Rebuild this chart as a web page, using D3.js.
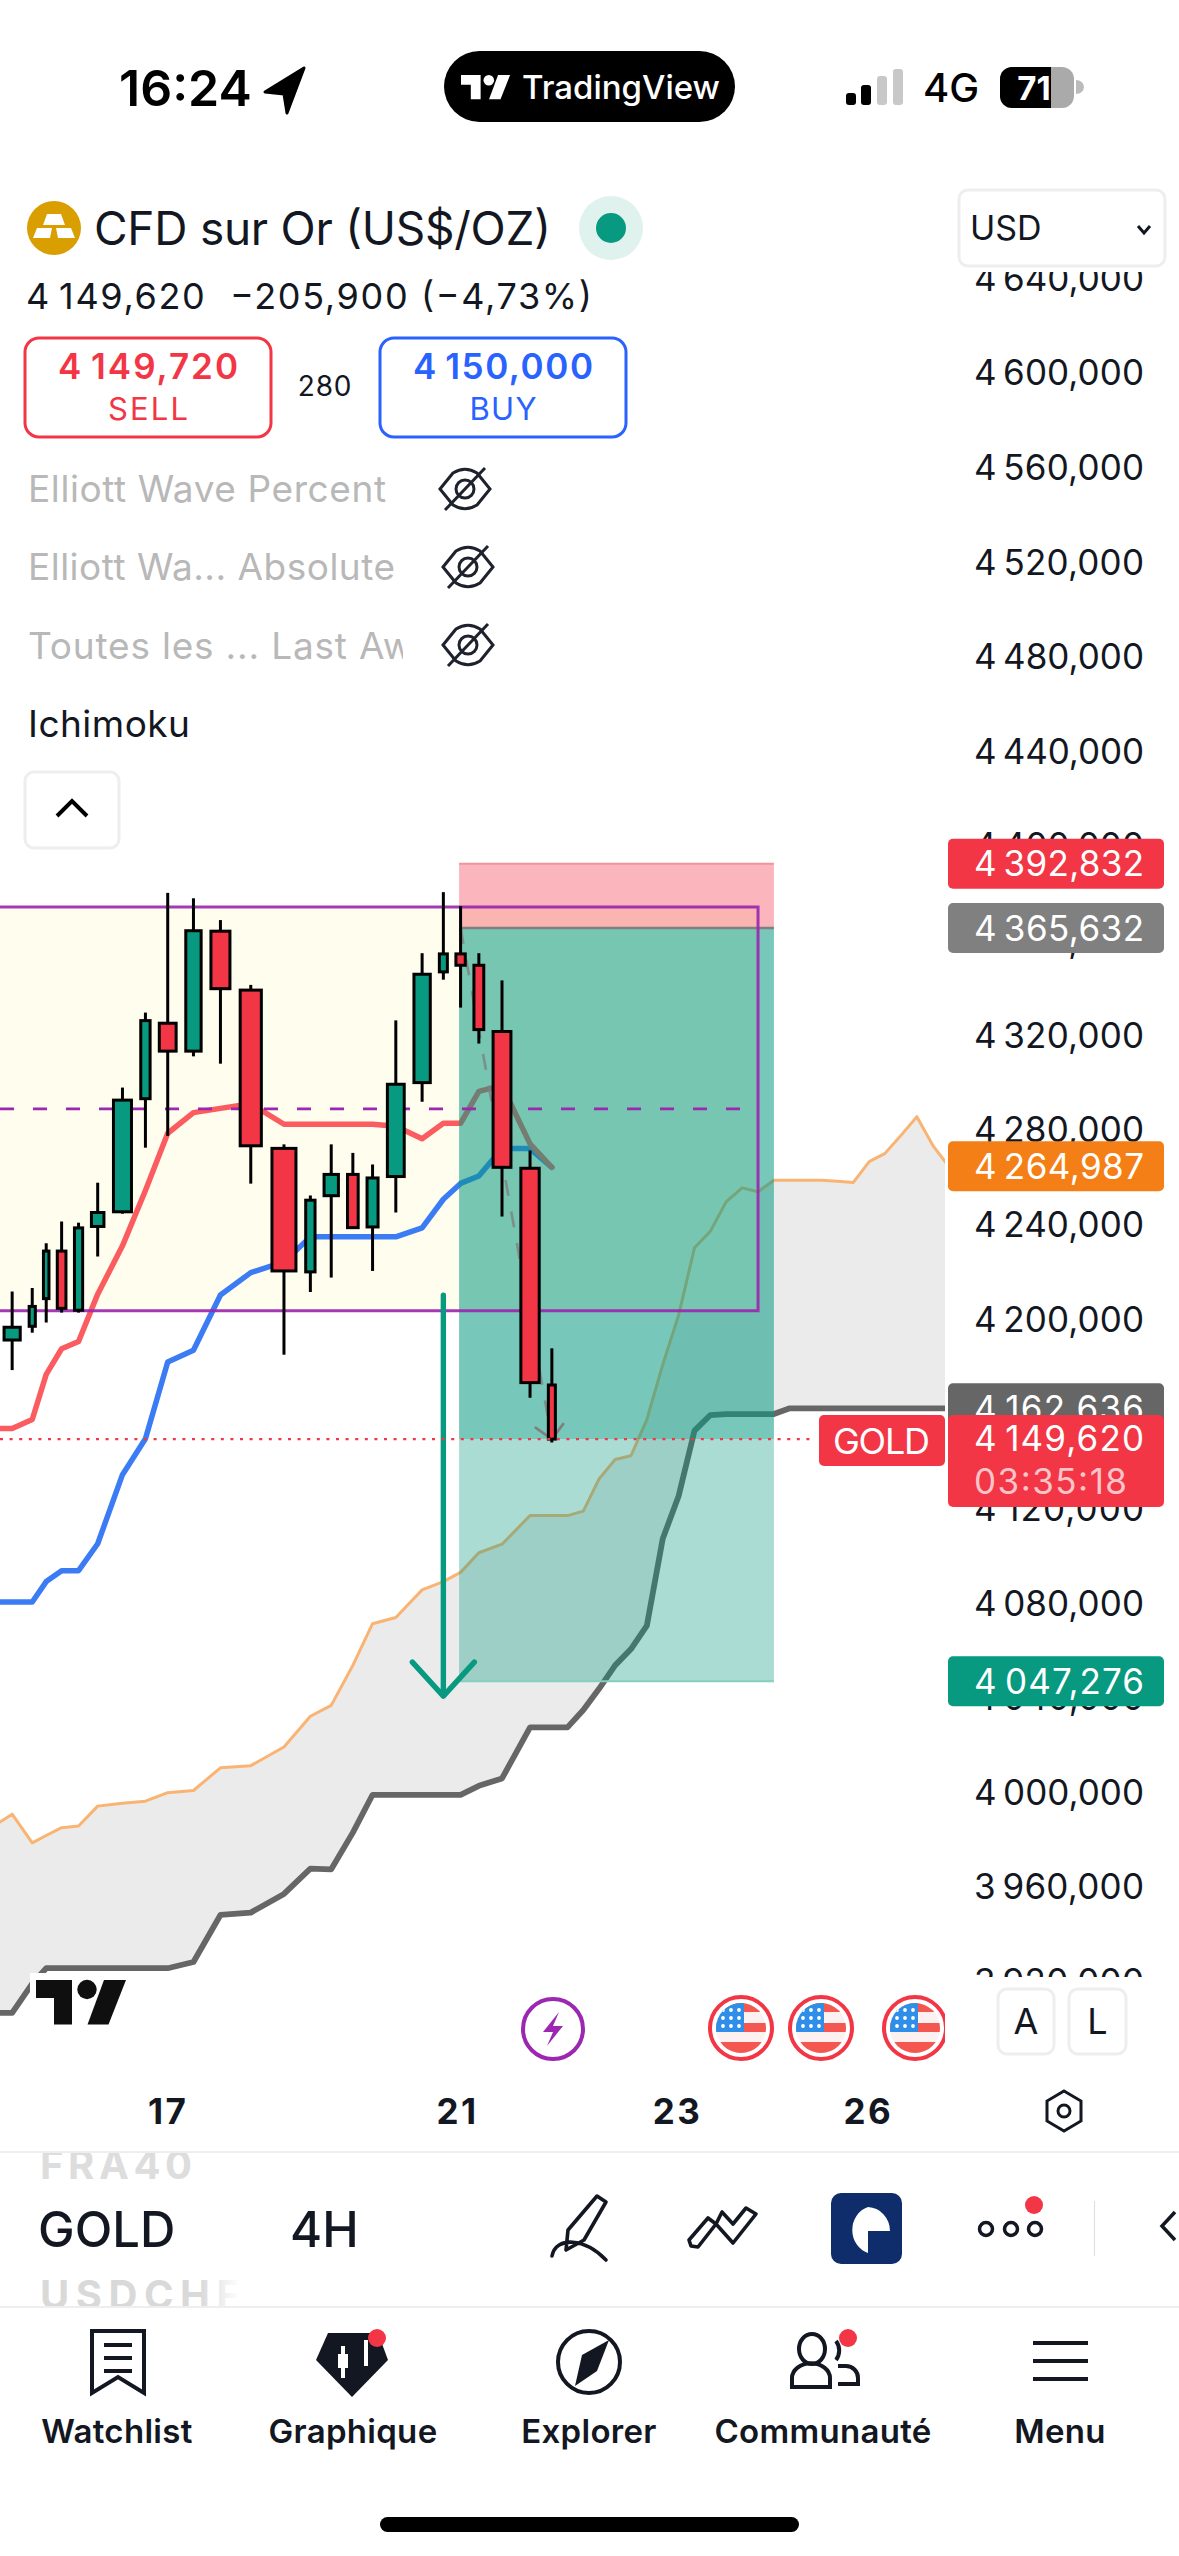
<!DOCTYPE html>
<html>
<head>
<meta charset="utf-8">
<title>GOLD 4H</title>
<script src="https://cdn.jsdelivr.net/npm/d3@7"></script>
<style>
  html, body { margin: 0; padding: 0; background: #fff; }
  svg { display: block; font-family: Inter, "Noto Sans", sans-serif; }
</style>
</head>
<body>
<svg id="chart" width="1179" height="2556"></svg>
<script>
// equivolume chart: every bar takes the room of its volume (arbitrary units)
// first one is just off the left edge, after the candles come the future bars of the cloud
var volumes = [50,
  67.5, 37.5, 35.5, 45, 43.5, 56.5, 73, 47, 69.5, 65, 76, 82.5, 91,
  47, 62, 51, 52, 69.5, 68, 43, 47, 48.5, 72.5, 74, 40,
  41.5, 41.5, 41.5, 41.5, 41.5, 41.5, 41.5, 41.5, 41.5, 41.5, 41.5, 41.5, 41.5, 41.5, 41.5, 41.5, 41.5, 41.5, 41.5, 41.5, 41.5, 41.5, 41.5, 41.5, 41.5];

var opens  = [4191.5, 4197.3, 4209.0, 4229.1, 4204.1, 4239.5, 4245.7, 4293.5, 4325.4, 4313.6, 4364.3, 4339.4, 4272.5,
              4220.3, 4252.5, 4261.5, 4239.3, 4260.6, 4300.3, 4347.1, 4354.7, 4349.9, 4321.9, 4264.1, 4172.5];
var highs  = [4212.0, 4213.5, 4232.4, 4241.6, 4241.1, 4258.0, 4298.2, 4329.9, 4380.5, 4378.2, 4369.0, 4341.6, 4274.2,
              4252.6, 4274.2, 4270.6, 4265.7, 4326.6, 4355.0, 4380.8, 4374.9, 4355.0, 4343.5, 4271.6, 4188.0];
var lows   = [4178.8, 4194.6, 4198.9, 4203.1, 4203.1, 4226.8, 4244.9, 4272.8, 4277.8, 4311.4, 4308.3, 4257.6, 4185.3,
              4211.8, 4217.9, 4239.0, 4220.7, 4245.4, 4292.2, 4343.8, 4332.0, 4316.8, 4243.7, 4167.1, 4148.2];
var closes = [4196.9, 4205.7, 4229.1, 4204.9, 4238.9, 4245.4, 4292.9, 4326.5, 4313.6, 4364.5, 4340.0, 4273.6, 4220.7,
              4250.6, 4261.5, 4239.0, 4260.0, 4299.6, 4346.1, 4354.7, 4349.9, 4322.7, 4264.5, 4173.5, 4149.62];

var tenkan = [4154.1, 4154.1, 4157.9, 4177.0, 4187.8, 4190.9, 4210.9, 4231.3, 4254.7, 4278.9, 4287.6, 4289.4, 4291.4,
              4282.7, 4282.7, 4282.7, 4282.7, 4282.7, 4281.9, 4276.6, 4283.1, 4283.1, 4296.6, 4299.0, 4274.4, 4264.5];
var kijun  = [4080.8, 4080.8, 4080.8, 4089.4, 4094.0, 4094.0, 4105.4, 4134.6, 4149.8, 4182.2, 4187.2, 4210.5, 4220.0,
              4224.5, 4235.1, 4235.1, 4235.1, 4235.1, 4235.1, 4238.9, 4251.0, 4257.7, 4260.8, 4272.4, 4272.4, 4264.5];
var spanA  = [3985.0, 3991.1, 3979.0, 3982.1, 3985.4, 3986.1, 3994.5, 3995.7, 3996.6, 4000.2, 4001.1, 4010.7, 4011.6,
              4019.5, 4032.5, 4037.1, 4054.0, 4071.6, 4074.2, 4085.9, 4089.4, 4093.3, 4101.6, 4105.2, 4117.3, 4117.3,
              4117.3, 4119.2, 4132.9, 4141.0, 4142.6, 4157.9, 4181.1, 4202.0, 4230.5, 4237.5, 4250.0, 4255.8, 4254.2,
              4259.0, 4259.0, 4259.0, 4259.0, 4258.6, 4258.1, 4266.9, 4270.4, 4278.0, 4285.9, 4273.8, 4264.987];
var spanB  = [3907.1, 3907.1, 3919.5, 3926.0, 3926.0, 3926.0, 3926.0, 3926.0, 3926.0, 3926.0, 3928.6, 3948.5, 3949.5,
              3957.4, 3968.1, 3967.8, 3983.3, 3999.3, 3999.3, 3999.3, 3999.3, 3999.3, 4003.1, 4006.2, 4027.8, 4027.8,
              4027.8, 4035.1, 4044.2, 4054.0, 4060.9, 4070.8, 4107.5, 4125.6, 4153.2, 4159.8, 4160.2, 4160.2, 4160.2,
              4160.2, 4162.636, 4162.636, 4162.636, 4162.636, 4162.636, 4162.636, 4162.636, 4162.636, 4162.636, 4162.636, 4162.636];

var priceTicks = d3.range(3920, 4680, 40);
// day ticks sit on the cumulated volume axis
var dayTicks = [490, 1246, 1821, 2320];
var dayLabels = ["17", "21", "23", "26"];

// rectangle and short position drawn on the chart
var boxHigh = 4374.5, boxLow = 4203.9, boxMid = 4289.2, boxEndBar = 38;
var stopPrice = 4392.832, entryPrice = 4365.632, targetPrice = 4047.276, lastPrice = 4149.62;
var positionStartBar = 21, positionEndBar = 39;
var arrowBar = 20, arrowTop = 4210.5, arrowTip = 4041;

var axisLabels = [
  {value: 4392.832, color: "#f23645"},
  {value: 4365.632, color: "#808080"},
  {value: 4264.987, color: "#f57f17"},
  {value: 4162.636, color: "#666666"},
  {value: 4047.276, color: "#089981"}
];

var frFormat = d3.formatLocale({decimal: ",", thousands: "\u202f", grouping: [3], currency: ["", ""]}).format(",.3f");

var svg = d3.select("#chart");
var red = "#f23645", green = "#089981", blue = "#2962ff", ink = "#131722";

// scales
var paneRight = 945;
var pxPerUnit = 0.3827;
var edges = [0];
volumes.forEach(function(v, i) { edges.push(edges[i] + v); });
var total = edges[edges.length - 1];
var x = d3.scaleLinear().domain([0, total]).range([-19.9, -19.9 + total * pxPerUnit]);
var y = d3.scaleLinear().domain([4320, 4000]).range([1036, 1036 + 320 * 2.366]);

function barX(i) { return x(edges[i] + volumes[i] / 2); }

var defs = svg.append("defs");
defs.append("clipPath").attr("id", "pane").append("rect")
    .attr("x", 0).attr("y", 272).attr("width", paneRight).attr("height", 1788);
defs.append("clipPath").attr("id", "axisclip").append("rect")
    .attr("x", 948).attr("y", 272).attr("width", 231).attr("height", 1705);
defs.append("clipPath").attr("id", "eventclip").append("rect")
    .attr("x", 0).attr("y", 1980).attr("width", paneRight).attr("height", 100);

var pane = svg.append("g").attr("clip-path", "url(#pane)");

// cloud
var cloud = d3.area()
    .x(function(d, i) { return barX(i); })
    .y0(function(d, i) { return y(spanB[i]); })
    .y1(function(d) { return y(d); });
pane.append("path").attr("d", cloud(spanA)).attr("fill", "#ebebeb");

var line = d3.line()
    .x(function(d, i) { return barX(i); })
    .y(function(d) { return y(d); });

// rectangle fill goes under the indicator lines
var boxRight = barX(boxEndBar);
pane.append("rect")
    .attr("x", -5).attr("y", y(boxHigh))
    .attr("width", boxRight + 5).attr("height", y(boxLow) - y(boxHigh))
    .attr("fill", "#fffdee");

pane.append("path").attr("d", line(spanA))
    .attr("fill", "none").attr("stroke", "#f9b473").attr("stroke-width", 3).attr("stroke-linejoin", "round");
pane.append("path").attr("d", line(spanB))
    .attr("fill", "none").attr("stroke", "#666666").attr("stroke-width", 5.8).attr("stroke-linejoin", "round");
pane.append("path").attr("d", line(kijun))
    .attr("fill", "none").attr("stroke", "#3b7cf5").attr("stroke-width", 5.5).attr("stroke-linejoin", "round").attr("stroke-linecap", "round");
pane.append("path").attr("d", line(tenkan))
    .attr("fill", "none").attr("stroke", "#fa5c60").attr("stroke-width", 5.5).attr("stroke-linejoin", "round").attr("stroke-linecap", "round");

// short position zones
var posLeft = barX(positionStartBar) - 1.5, posRight = barX(positionEndBar);
function zone(top, bottom, color, alpha) {
  pane.append("rect")
      .attr("x", posLeft).attr("y", y(top))
      .attr("width", posRight - posLeft).attr("height", y(bottom) - y(top))
      .attr("fill", color).attr("fill-opacity", alpha);
}
zone(stopPrice, entryPrice, red, 0.36);
zone(entryPrice, lastPrice, green, 0.55);
zone(lastPrice, targetPrice, green, 0.34);

function hline(price, color, width, x0, x1, dash) {
  pane.append("line")
      .attr("x1", x0).attr("x2", x1)
      .attr("y1", y(price)).attr("y2", y(price))
      .attr("stroke", color).attr("stroke-width", width)
      .attr("stroke-dasharray", dash || null);
}
hline(stopPrice, "#f7919a", 2, posLeft, posRight);
hline(entryPrice, "#808080", 2.4, posLeft, posRight);
hline(targetPrice, "#83d0c1", 2, posLeft, posRight);

// rectangle outline and mid line, above the zones
pane.append("path")
    .attr("d", "M-5," + y(boxHigh) + "H" + boxRight + "V" + y(boxLow) + "H-5")
    .attr("fill", "none").attr("stroke", "#9c27b0").attr("stroke-opacity", 0.92).attr("stroke-width", 3);
hline(boxMid, "#9c27b0", 2.8, 0, boxRight, "14 19");

// grey projection of the trade
var projection = [[barX(positionStartBar), y(entryPrice)], [barX(25), y(lastPrice)]];
pane.append("path").attr("d", d3.line()(projection))
    .attr("fill", "none").attr("stroke", "#808080").attr("stroke-width", 2.6).attr("stroke-dasharray", "16 16").attr("stroke-opacity", 0.8);
pane.append("path")
    .attr("d", "M" + (barX(25) - 17) + "," + (y(lastPrice) - 12) + "L" + barX(25) + "," + y(lastPrice) + "L" + (barX(25) + 12) + "," + (y(lastPrice) - 16))
    .attr("fill", "none").attr("stroke", "#808080").attr("stroke-width", 2.6);

// candles
var candles = pane.append("g").selectAll("g")
    .data(opens)
  .enter().append("g");
candles.append("line")
    .attr("x1", function(d, i) { return barX(i + 1); })
    .attr("x2", function(d, i) { return barX(i + 1); })
    .attr("y1", function(d, i) { return y(highs[i]); })
    .attr("y2", function(d, i) { return y(lows[i]); })
    .attr("stroke", "#000").attr("stroke-width", 3);
function bodyWidth(i) { return 0.87 * volumes[i + 1] * pxPerUnit - 3.3; }
candles.append("rect")
    .attr("x", function(d, i) { return barX(i + 1) - bodyWidth(i) / 2 + 1.5; })
    .attr("width", function(d, i) { return bodyWidth(i) - 3; })
    .attr("y", function(d, i) { return y(Math.max(d, closes[i])); })
    .attr("height", function(d, i) { return Math.abs(y(d) - y(closes[i])); })
    .attr("fill", function(d, i) { return closes[i] >= d ? green : red; })
    .attr("stroke", "#000").attr("stroke-width", 3);

// target arrow
var ax = barX(arrowBar);
pane.append("path")
    .attr("d", "M" + ax + "," + y(arrowTop) + "V" + y(arrowTip) + "M" + (ax - 31) + "," + (y(arrowTip) - 34) + "L" + ax + "," + y(arrowTip) + "L" + (ax + 31) + "," + (y(arrowTip) - 34))
    .attr("fill", "none").attr("stroke", green).attr("stroke-width", 5.4).attr("stroke-linecap", "round").attr("stroke-linejoin", "round");

// last price line
svg.append("line")
    .attr("x1", 0).attr("x2", 815).attr("y1", y(lastPrice)).attr("y2", y(lastPrice))
    .attr("stroke", red).attr("stroke-width", 2.4).attr("stroke-dasharray", "3 6.6");

// price axis
var yAxis = svg.append("g")
    .attr("clip-path", "url(#axisclip)")
  .append("g")
    .attr("transform", "translate(974,0)")
    .call(d3.axisRight(y).tickValues(priceTicks).tickSize(0).tickPadding(0).tickFormat(frFormat));
yAxis.select(".domain").remove();
yAxis.selectAll("text").attr("font-size", 35).attr("font-family", "Inter").attr("fill", ink)
    .attr("textLength", 170).attr("lengthAdjust", "spacing");

// labels on the axis
function priceBox(top, h, color) {
  svg.append("rect").attr("x", 948).attr("y", top).attr("width", 216).attr("height", h).attr("rx", 5).attr("fill", color);
}
function priceText(cy, txt, len, color) {
  svg.append("text").attr("x", 974).attr("y", cy).attr("dy", "0.36em")
      .attr("font-size", 35).attr("fill", color || "#fff")
      .attr("textLength", len).attr("lengthAdjust", "spacing").text(txt);
}
axisLabels.forEach(function(d) {
  priceBox(y(d.value) - 25, 50, d.color);
  priceText(y(d.value), frFormat(d.value), 170);
});
priceBox(1415, 92, red);
priceText(1438, frFormat(lastPrice), 170);
priceText(1481, "03:35:18", 153, "#fbc4c9");
svg.append("rect").attr("x", 819).attr("y", 1415).attr("width", 126).attr("height", 51).attr("rx", 5).attr("fill", red);
svg.append("text").attr("x", 833).attr("y", 1441).attr("dy", "0.36em")
    .attr("font-size", 36).attr("fill", "#fff").attr("textLength", 97).attr("lengthAdjust", "spacing").text("GOLD");

// TradingView mark, origin at top left of the T, 90 x 44.5 at scale 1
function tvLogo(parent, ox, oy, k, color) {
  var g = parent.append("g").attr("transform", "translate(" + ox + "," + oy + ") scale(" + k + ")").attr("fill", color);
  g.append("path").attr("d", "M0,0H36V44.5H18V18H0Z");
  g.append("circle").attr("cx", 51).attr("cy", 9.5).attr("r", 9.7);
  g.append("path").attr("d", "M68,0H90L72.5,44.5H51.5Z");
}
svg.append("rect").attr("x", 30).attr("y", 1973).attr("width", 105).attr("height", 60).attr("fill", "#fff");
tvLogo(svg, 36, 1980, 1, "#0f0f0f");

// event badges
svg.append("circle").attr("cx", 553).attr("cy", 2029).attr("r", 30).attr("fill", "#fff").attr("stroke", "#9c27b0").attr("stroke-width", 4);
svg.append("path").attr("d", "M559,2012L543,2032H553L547,2046L563,2026H553Z").attr("fill", "#9c27b0");
var events = svg.append("g").attr("clip-path", "url(#eventclip)");
[741, 821, 915].forEach(function(cx, n) {
  defs.append("clipPath").attr("id", "flag" + n).append("circle").attr("cx", cx).attr("cy", 2028).attr("r", 25);
  events.append("circle").attr("cx", cx).attr("cy", 2028).attr("r", 31).attr("fill", "#fff").attr("stroke", "#f23645").attr("stroke-width", 4);
  var flag = events.append("g").attr("clip-path", "url(#flag" + n + ")");
  flag.append("rect").attr("x", cx - 25).attr("y", 2003).attr("width", 50).attr("height", 50).attr("fill", "#fdf0f0");
  flag.append("rect").attr("x", cx - 25).attr("y", 2003).attr("width", 50).attr("height", 9).attr("fill", "#f4574f");
  flag.append("rect").attr("x", cx - 25).attr("y", 2023).attr("width", 50).attr("height", 9).attr("fill", "#f4574f");
  flag.append("rect").attr("x", cx - 25).attr("y", 2042).attr("width", 50).attr("height", 12).attr("fill", "#f4574f");
  flag.append("rect").attr("x", cx - 25).attr("y", 2003).attr("width", 28).attr("height", 29).attr("fill", "#2f8fe8");
  [2010, 2018, 2026].forEach(function(sy) {
    [-18, -10, -2].forEach(function(sx) {
      flag.append("circle").attr("cx", cx + sx).attr("cy", sy).attr("r", 1.9).attr("fill", "#fff");
    });
  });
});

function smallBtn(bx, by, w, h, txt) {
  svg.append("rect").attr("x", bx).attr("y", by).attr("width", w).attr("height", h).attr("rx", 9)
      .attr("fill", "#fff").attr("stroke", "#eeeeee").attr("stroke-width", 3);
  if (txt) {
    svg.append("text").attr("x", bx + w / 2).attr("y", by + h / 2).attr("dy", "0.36em").attr("text-anchor", "middle")
        .attr("font-size", 36).attr("fill", ink).text(txt);
  }
}
smallBtn(998, 1989, 56, 65, "A");
smallBtn(1069, 1989, 57, 65, "L");

// time axis
var xAxis = svg.append("g")
    .attr("transform", "translate(0,2111)")
    .call(d3.axisBottom(x).tickValues(dayTicks).tickSize(0).tickPadding(0)
      .tickFormat(function(d, i) { return dayLabels[i]; }));
xAxis.select(".domain").remove();
xAxis.selectAll("text").attr("font-size", 35).attr("font-weight", 700).attr("font-family", "Inter").attr("fill", ink)
    .attr("dy", "0.36em").style("letter-spacing", "2.5px");

svg.append("path").attr("d", "M1064,2091L1081,2101V2121L1064,2131L1047,2121V2101Z")
    .attr("fill", "none").attr("stroke", ink).attr("stroke-width", 3);
svg.append("circle").attr("cx", 1064).attr("cy", 2111).attr("r", 6).attr("fill", "none").attr("stroke", ink).attr("stroke-width", 3);

function label(tx, ty, txt, size, color, opts) {
  opts = opts || {};
  var t = svg.append("text").attr("x", tx).attr("y", ty).attr("dy", "0.36em")
      .attr("font-size", size).attr("fill", color)
      .attr("font-weight", opts.weight || 400)
      .attr("text-anchor", opts.anchor || "start")
      .style("letter-spacing", (opts.spacing || 0) + "px")
      .style("white-space", "pre")
      .text(txt);
  if (opts.len) t.attr("textLength", opts.len).attr("lengthAdjust", "spacing");
  return t;
}

// status bar
label(119, 88, "16:24", 50, "#000", {weight: 600});
svg.append("path").attr("d", "M304,68L265,92L284,94L287,113Z").attr("fill", "#000").attr("stroke", "#000").attr("stroke-width", 3).attr("stroke-linejoin", "round");
svg.append("rect").attr("x", 444).attr("y", 51).attr("width", 291).attr("height", 71).attr("rx", 35.5).attr("fill", "#000");
tvLogo(svg, 461, 75, 0.545, "#fff");
label(522, 87, "TradingView", 33, "#fff", {weight: 500});
[[846, 93, "#000"], [861, 85, "#000"], [877, 76, "#c8c8c8"], [893, 69, "#c8c8c8"]].forEach(function(b) {
  svg.append("rect").attr("x", b[0]).attr("y", b[1]).attr("width", 10).attr("height", 105 - b[1]).attr("rx", 3).attr("fill", b[2]);
});
label(923, 88, "4G", 40, "#000", {weight: 500});
svg.append("rect").attr("x", 1000).attr("y", 67).attr("width", 74).attr("height", 41).attr("rx", 12).attr("fill", "#aaaaaa");
svg.append("path").attr("d", "M1012,67H1051V108H1012A12,12 0 0 1 1000,96V79A12,12 0 0 1 1012,67Z").attr("fill", "#000");
svg.append("path").attr("d", "M1076,80A8,7 0 0 1 1076,94Z").attr("fill", "#bbbbbb");
label(1034, 88, "71", 33, "#fff", {weight: 700, anchor: "middle"});

// title
svg.append("circle").attr("cx", 54).attr("cy", 228).attr("r", 27).attr("fill", "#d99e00");
svg.append("path").attr("d", "M47,214H61L65,225H43ZM37,228H52L50,238H33ZM56,228H71L75,238H58Z").attr("fill", "#fff");
label(94, 228, "CFD sur Or (US$/OZ)", 46, ink, {len: 457});
svg.append("circle").attr("cx", 611).attr("cy", 228).attr("r", 32).attr("fill", "#dff2ee");
svg.append("circle").attr("cx", 611).attr("cy", 228).attr("r", 15).attr("fill", green);

smallBtn(959, 190, 206, 76);
label(970, 228, "USD", 34, ink);
svg.append("path").attr("d", "M1138,226L1144,233L1150,226").attr("fill", "none").attr("stroke", ink).attr("stroke-width", 3);

label(26, 296, "4\u202f149,620  \u2212205,900 (\u22124,73%)", 36, ink, {len: 566});

// sell and buy
function tradeBox(bx, color, price, name, nameLen) {
  svg.append("rect").attr("x", bx).attr("y", 338).attr("width", 246).attr("height", 99).attr("rx", 14)
      .attr("fill", "#fff").attr("stroke", color).attr("stroke-width", 3);
  label(bx + 33, 366, price, 35, color, {weight: 600, len: 180});
  label(bx + 123 - nameLen / 2, 409, name, 31, color, {len: nameLen});
}
tradeBox(25, red, "4\u202f149,720", "SELL", 80);
tradeBox(380, blue, "4\u202f150,000", "BUY", 67);
label(325, 386, "280", 28, ink, {anchor: "middle", spacing: 0.8});

// legend rows
function eyeOff(cx, cy) {
  var g = svg.append("g").attr("transform", "translate(" + cx + "," + cy + ")")
      .attr("fill", "none").attr("stroke", "#1e222d").attr("stroke-width", 3);
  g.append("path").attr("d", "M-25,0L-12,-16C-4,-21 4,-21 12,-16L25,0L12,16C4,21 -4,21 -12,16Z");
  g.append("circle").attr("r", 9);
  g.append("path").attr("d", "M-20,21L20,-21");
}
defs.append("clipPath").attr("id", "legendclip").append("rect").attr("x", 0).attr("y", 620).attr("width", 403).attr("height", 60);
label(28, 489, "Elliott Wave Percent", 37, "#b8b8b8", {len: 358});
label(28, 567, "Elliott Wa... Absolute", 37, "#b8b8b8", {len: 367});
label(28, 646, "Toutes les ... Last Aw", 37, "#b8b8b8", {len: 385}).attr("clip-path", "url(#legendclip)");
eyeOff(465, 489); eyeOff(468, 567); eyeOff(468, 645);
label(28, 724, "Ichimoku", 37, ink, {len: 162});
smallBtn(25, 772, 94, 76);
svg.append("path").attr("d", "M57,816L72,801L87,816").attr("fill", "none").attr("stroke", "#000").attr("stroke-width", 4);

// symbol strip
svg.append("rect").attr("x", 0).attr("y", 2151).attr("width", 1179).attr("height", 2).attr("fill", "#eeeeee");
svg.append("rect").attr("x", 0).attr("y", 2306).attr("width", 1179).attr("height", 2).attr("fill", "#eeeeee");
defs.append("clipPath").attr("id", "strip").append("rect").attr("x", 0).attr("y", 2153).attr("width", 238).attr("height", 153);
var grad = defs.append("linearGradient").attr("id", "fadeR");
grad.append("stop").attr("offset", "0.8").attr("stop-color", "#d9d9d9");
grad.append("stop").attr("offset", "1").attr("stop-color", "#ffffff");
label(40, 2165, "FRA40", 40, "#dddddd", {weight: 700, len: 152}).attr("clip-path", "url(#strip)");
label(40, 2295, "USDCHF", 40, "url(#fadeR)", {weight: 700, len: 200}).attr("clip-path", "url(#strip)");
label(38, 2229, "GOLD", 49, ink, {weight: 500});
label(290, 2229, "4H", 49, ink, {weight: 500});

svg.append("path").attr("d", "M597,2196L606,2202L584,2240L566,2250L568,2230Z M552,2256C556,2236 585,2238 606,2260")
    .attr("fill", "none").attr("stroke", ink).attr("stroke-width", 3.6).attr("stroke-linejoin", "round").attr("stroke-linecap", "round");
svg.append("path").attr("d", "M691,2246L689,2240L708,2218L716,2224L698,2247ZM716,2224L733,2243L756,2214L746,2208L733,2224L722,2212Z")
    .attr("fill", "none").attr("stroke", ink).attr("stroke-width", 3.6).attr("stroke-linejoin", "round");
svg.append("rect").attr("x", 831).attr("y", 2193).attr("width", 71).attr("height", 71).attr("rx", 10).attr("fill", "#0f2d6b");
svg.append("path").attr("d", "M868,2207A22,24 0 0 0 868,2253V2231H890A23,24 0 0 0 868,2207Z").attr("fill", "#fff");
[986, 1011, 1035].forEach(function(cx) {
  svg.append("circle").attr("cx", cx).attr("cy", 2229).attr("r", 6.5).attr("fill", "none").attr("stroke", ink).attr("stroke-width", 3.5);
});
svg.append("circle").attr("cx", 1034).attr("cy", 2205).attr("r", 9).attr("fill", red);
svg.append("rect").attr("x", 1094).attr("y", 2201).attr("width", 1).attr("height", 55).attr("fill", "#dddddd");
svg.append("path").attr("d", "M1175,2212L1162,2226L1175,2240").attr("fill", "none").attr("stroke", ink).attr("stroke-width", 3.5);

// tab bar
var tabCenters = [117, 353, 589, 823, 1060];
var tabNames = ["Watchlist", "Graphique", "Explorer", "Communaut\u00e9", "Menu"];
tabNames.forEach(function(n, i) {
  label(tabCenters[i], 2431, n, 33, ink, {weight: 600, anchor: "middle", spacing: 0.3});
});
svg.append("path").attr("d", "M92,2331H144V2393L118,2377L92,2393Z").attr("fill", "none").attr("stroke", ink).attr("stroke-width", 4);
svg.append("path").attr("d", "M104,2345H132M104,2358H132M104,2371H132").attr("stroke", ink).attr("stroke-width", 4).attr("fill", "none");
svg.append("path").attr("d", "M328,2333H378L388,2360L352,2397L316,2360Z").attr("fill", "#131722");
svg.append("path").attr("d", "M343,2346V2378M366,2340V2366").attr("stroke", "#fff").attr("stroke-width", 4);
svg.append("rect").attr("x", 338).attr("y", 2354).attr("width", 10).attr("height", 14).attr("fill", "#fff");
svg.append("circle").attr("cx", 377).attr("cy", 2338).attr("r", 9).attr("fill", red);
svg.append("circle").attr("cx", 589).attr("cy", 2362).attr("r", 31).attr("fill", "none").attr("stroke", ink).attr("stroke-width", 4);
svg.append("path").attr("d", "M609,2340L597,2371L575,2386L582,2355Z").attr("fill", ink);
svg.append("ellipse").attr("cx", 812).attr("cy", 2349).attr("rx", 13).attr("ry", 15).attr("fill", "none").attr("stroke", ink).attr("stroke-width", 4);
svg.append("path").attr("d", "M792,2387V2378A18,14 0 0 1 830,2378V2387ZM836,2341A12,14 0 0 1 836,2360M838,2366H846A12,12 0 0 1 858,2378V2384H838")
    .attr("fill", "none").attr("stroke", ink).attr("stroke-width", 4);
svg.append("circle").attr("cx", 848).attr("cy", 2338).attr("r", 9).attr("fill", red);
svg.append("path").attr("d", "M1033,2343H1088M1033,2361H1088M1033,2379H1088").attr("fill", "none").attr("stroke", ink).attr("stroke-width", 4);

svg.append("rect").attr("x", 380).attr("y", 2517).attr("width", 419).attr("height", 15).attr("rx", 7.5).attr("fill", "#000");
</script>
</body>
</html>
